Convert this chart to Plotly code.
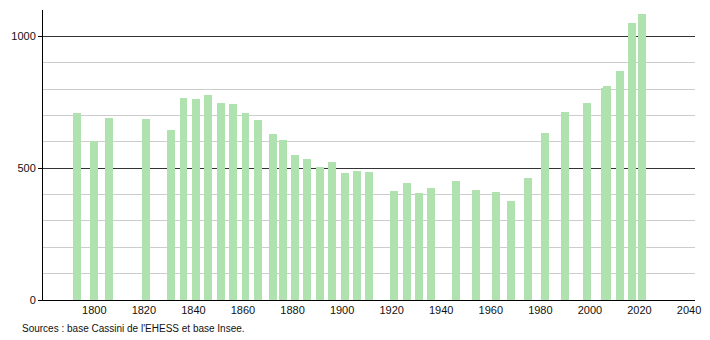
import plotly.graph_objects as go

years = [1793, 1800, 1806, 1821, 1831, 1836, 1841, 1846, 1851, 1856,
         1861, 1866, 1872, 1876, 1881, 1886, 1891, 1896, 1901, 1906,
         1911, 1921, 1926, 1931, 1936, 1946, 1954, 1962, 1968, 1975,
         1982, 1990, 1999, 2006, 2007, 2012, 2017, 2021]
population = [708, 605, 690, 686, 644, 766, 763, 777, 749, 745,
              711, 682, 631, 606, 551, 536, 504, 524, 483, 490,
              486, 413, 443, 404, 425, 453, 418, 408, 377, 463,
              635, 715, 748, 806, 812, 868, 1052, 1086]
x_ticks = list(range(1800, 2041, 20))
y_ticks = [0, 500, 1000]
source_text = "Sources : base Cassini de l'EHESS et base Insee."

fig = go.Figure()
fig.add_trace(go.Bar(
    x=years, y=population, width=3.2,
    marker=dict(color="rgb(176,226,176)", line=dict(width=0)),
    showlegend=False,
))

font = dict(family="Liberation Sans, Arial, sans-serif", size=11, color="#111")

fig.update_layout(
    width=710, height=340,
    margin=dict(l=43, r=9, t=10, b=40),
    paper_bgcolor="white", plot_bgcolor="white",
    font=font,
    bargap=0,
    xaxis=dict(
        range=[1779.3, 2042.4],
        tickvals=x_ticks,
        ticktext=[str(v) for v in x_ticks],
        showgrid=False, zeroline=False,
        showline=True, linecolor="#000", linewidth=1,
        ticks="", tickfont=font,
        fixedrange=True,
    ),
    yaxis=dict(
        range=[0, 1100],
        tickvals=y_ticks,
        ticktext=[str(v) for v in y_ticks],
        showgrid=True, gridcolor="#333", gridwidth=1,
        zeroline=False,
        showline=True, linecolor="#000", linewidth=1,
        ticks="outside", ticklen=4, tickcolor="#000",
        tickfont=font,
        minor=dict(dtick=100, tick0=0, showgrid=True, gridcolor="#cccccc", gridwidth=1, ticks=""),
        fixedrange=True,
    ),
    annotations=[dict(
        text=source_text, xref="paper", yref="paper",
        x=(20 - 43) / 658, y=-(328 - 300) / 290,
        xanchor="left", yanchor="middle", showarrow=False,
        font=dict(family="Liberation Sans, Arial, sans-serif", size=10, color="#111"),
    )],
)

fig.write_html("out.html")
